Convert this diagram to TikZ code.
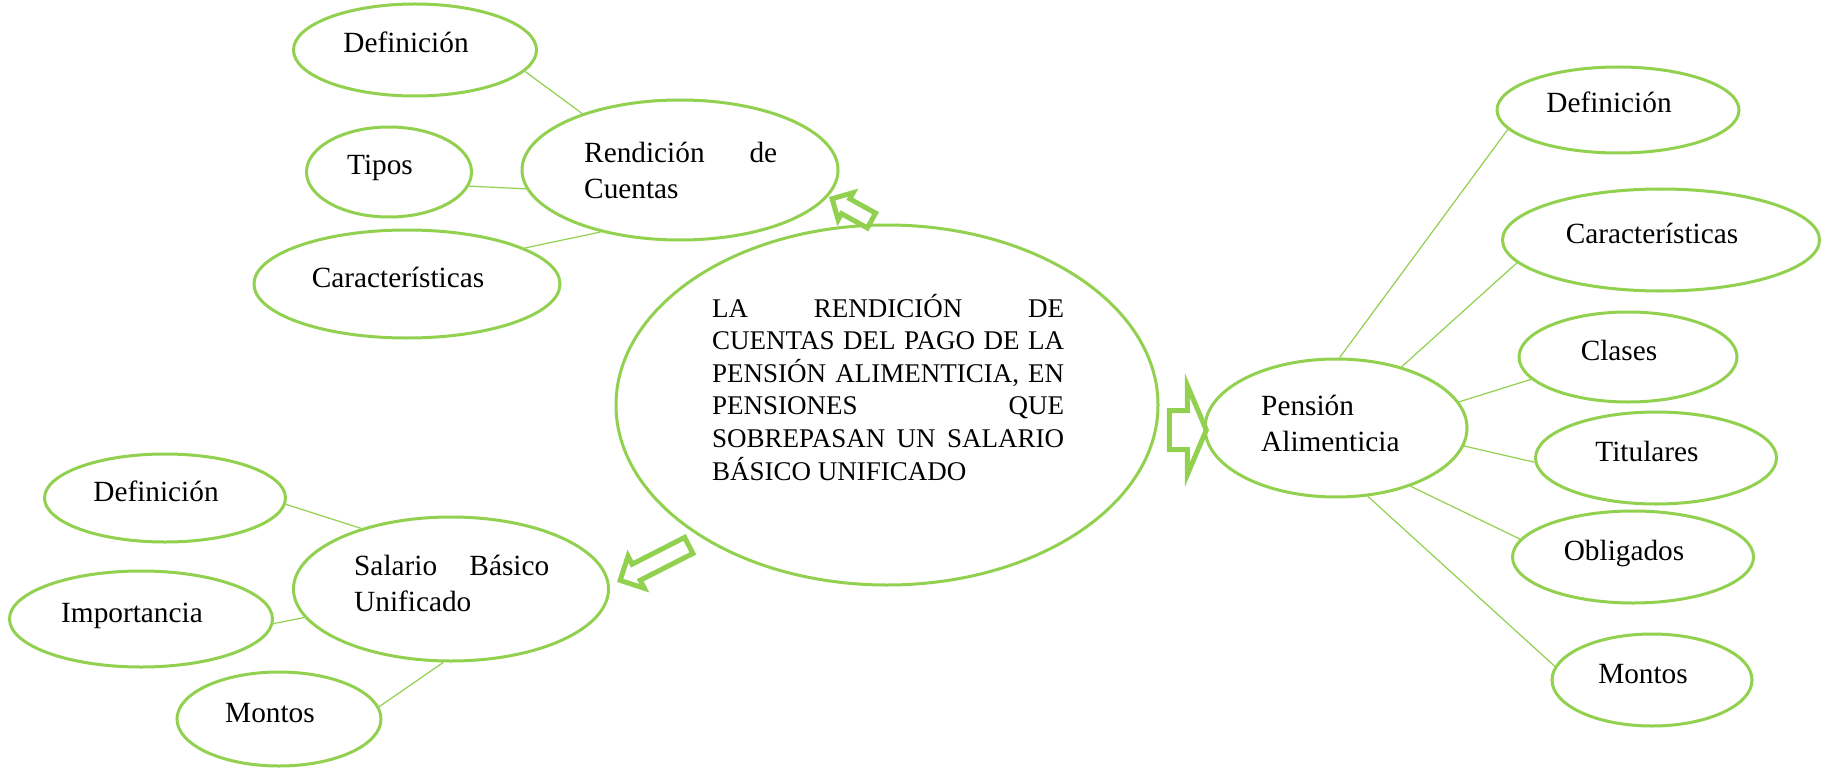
\documentclass[tikz,border=0pt]{standalone}
\usepackage{fontspec}
\setmainfont{Liberation Serif}
\usetikzlibrary{shapes.geometric,shapes.arrows}
\definecolor{leaf}{RGB}{146,208,80}
\begin{document}
\begin{tikzpicture}[x=1pt, y=-1pt,
  bubble/.style={ellipse, draw=leaf, line width=3pt, inner sep=0pt,
    font=\fontsize{29.3}{36}\selectfont, text height=20pt, text depth=14pt,
    execute at end node={\hspace*{18pt}}},
  words/.style={inner sep=0pt, anchor=base west, font=\fontsize{29.3}{36}\selectfont},
  twig/.style={draw=leaf, line width=1.2pt},
  fatarrow/.style={single arrow, draw=leaf, line width=5pt, inner sep=0pt, anchor=tip}]
\fill[white] (0,0) rectangle (1827,767);

% tema central
\node[bubble, minimum width=542, minimum height=360] (tema) at (887,405) {};
\node[words, font=\fontsize{27}{32.6}\selectfont] (tematxt) at (712,317) {\parbox[t]{352pt}{%
  \makebox[\linewidth][s]{LA RENDICIÓN DE}\\
  \makebox[\linewidth][s]{CUENTAS DEL PAGO DE LA}\\
  \makebox[\linewidth][s]{PENSIÓN ALIMENTICIA, EN}\\
  \makebox[\linewidth][s]{PENSIONES QUE}\\
  \makebox[\linewidth][s]{SOBREPASAN UN SALARIO}\\
  BÁSICO UNIFICADO}};

% rendicion de cuentas
\node[bubble, minimum width=316, minimum height=140] (rend) at (680,170) {};
\node[words] (rendtxt) at (584,163) {\parbox[t]{193pt}{\makebox[\linewidth][s]{Rendición de}\\Cuentas}};
\node[bubble, minimum width=243, minimum height=92] (deftl) at (415,50) {Definición};
\node[bubble, minimum width=165, minimum height=90] (tipos) at (389,172) {Tipos};
\node[bubble, minimum width=306, minimum height=108] (caractl) at (407,284) {Características};
\draw[twig] (deftl.-11) -- (rend.150);
\draw[twig] (tipos.-10) -- (rend.-173);
\draw[twig] (caractl.17) -- (rend.-142);

% pension alimenticia
\node[bubble, minimum width=262, minimum height=138] (pens) at (1336,428) {};
\node[words] (penstxt) at (1261,415) {\parbox[t]{160pt}{Pensión\\Alimenticia}};
\node[bubble, minimum width=242, minimum height=86] (defr) at (1618,110) {Definición};
\node[bubble, minimum width=317, minimum height=102] (caractr) at (1661,240) {Características};
\node[bubble, minimum width=218, minimum height=90] (clases) at (1628,357) {Clases};
\node[bubble, minimum width=241, minimum height=92] (titul) at (1656,458) {Titulares};
\node[bubble, minimum width=241, minimum height=92] (oblig) at (1633,557) {Obligados};
\node[bubble, minimum width=200, minimum height=92] (montosr) at (1652,680) {Montos};
\draw[twig] (pens.87) -- (defr.-170);
\draw[twig] (pens.43) -- (caractr.-171);
\draw[twig] (pens.12) -- (clases.-167);
\draw[twig] (pens.-8) -- (titul.-178);
\draw[twig] (pens.-38) -- (oblig.171);
\draw[twig] (pens.-65) -- (montosr.172);

% salario basico unificado
\node[bubble, minimum width=315, minimum height=144] (sal) at (451,589) {};
\node[words] (saltxt) at (354,575) {\parbox[t]{195pt}{\makebox[\linewidth][s]{Salario Básico}\\Unificado}};
\node[bubble, minimum width=241, minimum height=88] (defl) at (165,498) {Definición};
\node[bubble, minimum width=263, minimum height=96] (imp) at (141,619) {Importancia};
\node[bubble, minimum width=204, minimum height=94] (montosl) at (279,719) {Montos};
\draw[twig] (defl.-3) -- (sal.146);
\draw[twig] (imp.-2) -- (sal.-169);
\draw[twig] (montosl.7) -- (sal.-96);

% flechas
\node[fatarrow, rotate=151, minimum height=45, inner ysep=6pt, single arrow head extend=7pt] (arrrend) at (829,197) {};
\node[fatarrow, rotate=207, minimum height=77, inner ysep=6.5pt, single arrow head extend=9pt] (arrsal) at (617,582) {};
\node[fatarrow, minimum height=37, inner ysep=17pt, single arrow head extend=25pt, single arrow tip angle=134] (arrpens) at (1209,430) {};
\end{tikzpicture}
\end{document}
